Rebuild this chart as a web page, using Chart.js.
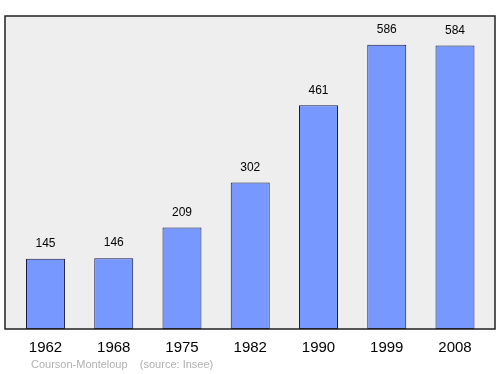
<!DOCTYPE html>
<html><head><meta charset="utf-8">
<script src="https://cdn.jsdelivr.net/npm/chart.js@4/dist/chart.umd.min.js"></script>
<style>html,body{margin:0;padding:0;background:#fff}#wrap{width:500px;height:374px}</style>
</head><body><div id="wrap"><canvas id="c" width="500" height="374"></canvas></div>
<script>
const years = ["1962","1968","1975","1982","1990","1999","2008"];
const population = [145,146,209,302,461,586,584];
const sourceText = "Courson-Monteloup    (source: Insee)";

const frame = {
  id:'frame',
  beforeDatasetsDraw(chart){
    const {ctx, chartArea:a} = chart;
    ctx.save();
    ctx.fillStyle = '#eeeeee';
    ctx.fillRect(a.left, a.top, a.right-a.left, a.bottom-a.top);
    ctx.restore();
  },
  afterDatasetsDraw(chart){
    const {ctx, chartArea:a} = chart;
    ctx.save();
    ctx.strokeStyle = '#222222';
    ctx.lineWidth = 1.5;
    ctx.strokeRect(a.left, a.top, a.right-a.left, a.bottom-a.top);
    const meta = chart.getDatasetMeta(0);
    ctx.fillStyle = '#000';
    ctx.font = '12px "Liberation Sans", Arial, sans-serif';
    ctx.textAlign = 'center';
    ctx.textBaseline = 'middle';
    meta.data.forEach((bar,i)=>{
      ctx.fillText(String(population[i]), bar.x, bar.y - 15);
    });
    ctx.fillStyle = '#b0b0b0';
    ctx.font = '11px "Liberation Sans", Arial, sans-serif';
    ctx.textAlign = 'left';
    ctx.fillText(sourceText, 31, 365);
    ctx.restore();
  }
};

new Chart(document.getElementById('c'), {
  type:'bar',
  data:{
    datasets:[{
      data: population.map((v,i)=>({x:i, y:v})),
      backgroundColor:'#7799ff',
      borderColor:'#1a1a40',
      borderWidth:1,
      borderSkipped:false,
      barPercentage:0.571,
      categoryPercentage:1
    }]
  },
  options:{
    responsive:false,
    animation:false,
    devicePixelRatio:1,
    layout:{padding:{left:5,right:5,top:16,bottom:15}},
    plugins:{legend:{display:false},tooltip:{enabled:false}},
    scales:{
      x:{type:'linear',min:-0.593,max:6.586,offset:false,
        afterBuildTicks(s){ s.ticks = years.map((y,i)=>({value:i})); },
        ticks:{callback:(v)=>years[v], color:'#000', padding:2,
          font:{family:'"Liberation Sans", Arial, sans-serif', size:15}, autoSkip:false, maxRotation:0},
        grid:{display:false}, border:{display:false}},
      y:{display:false,min:0,max:645}
    }
  },
  plugins:[frame]
});
</script></body></html>
